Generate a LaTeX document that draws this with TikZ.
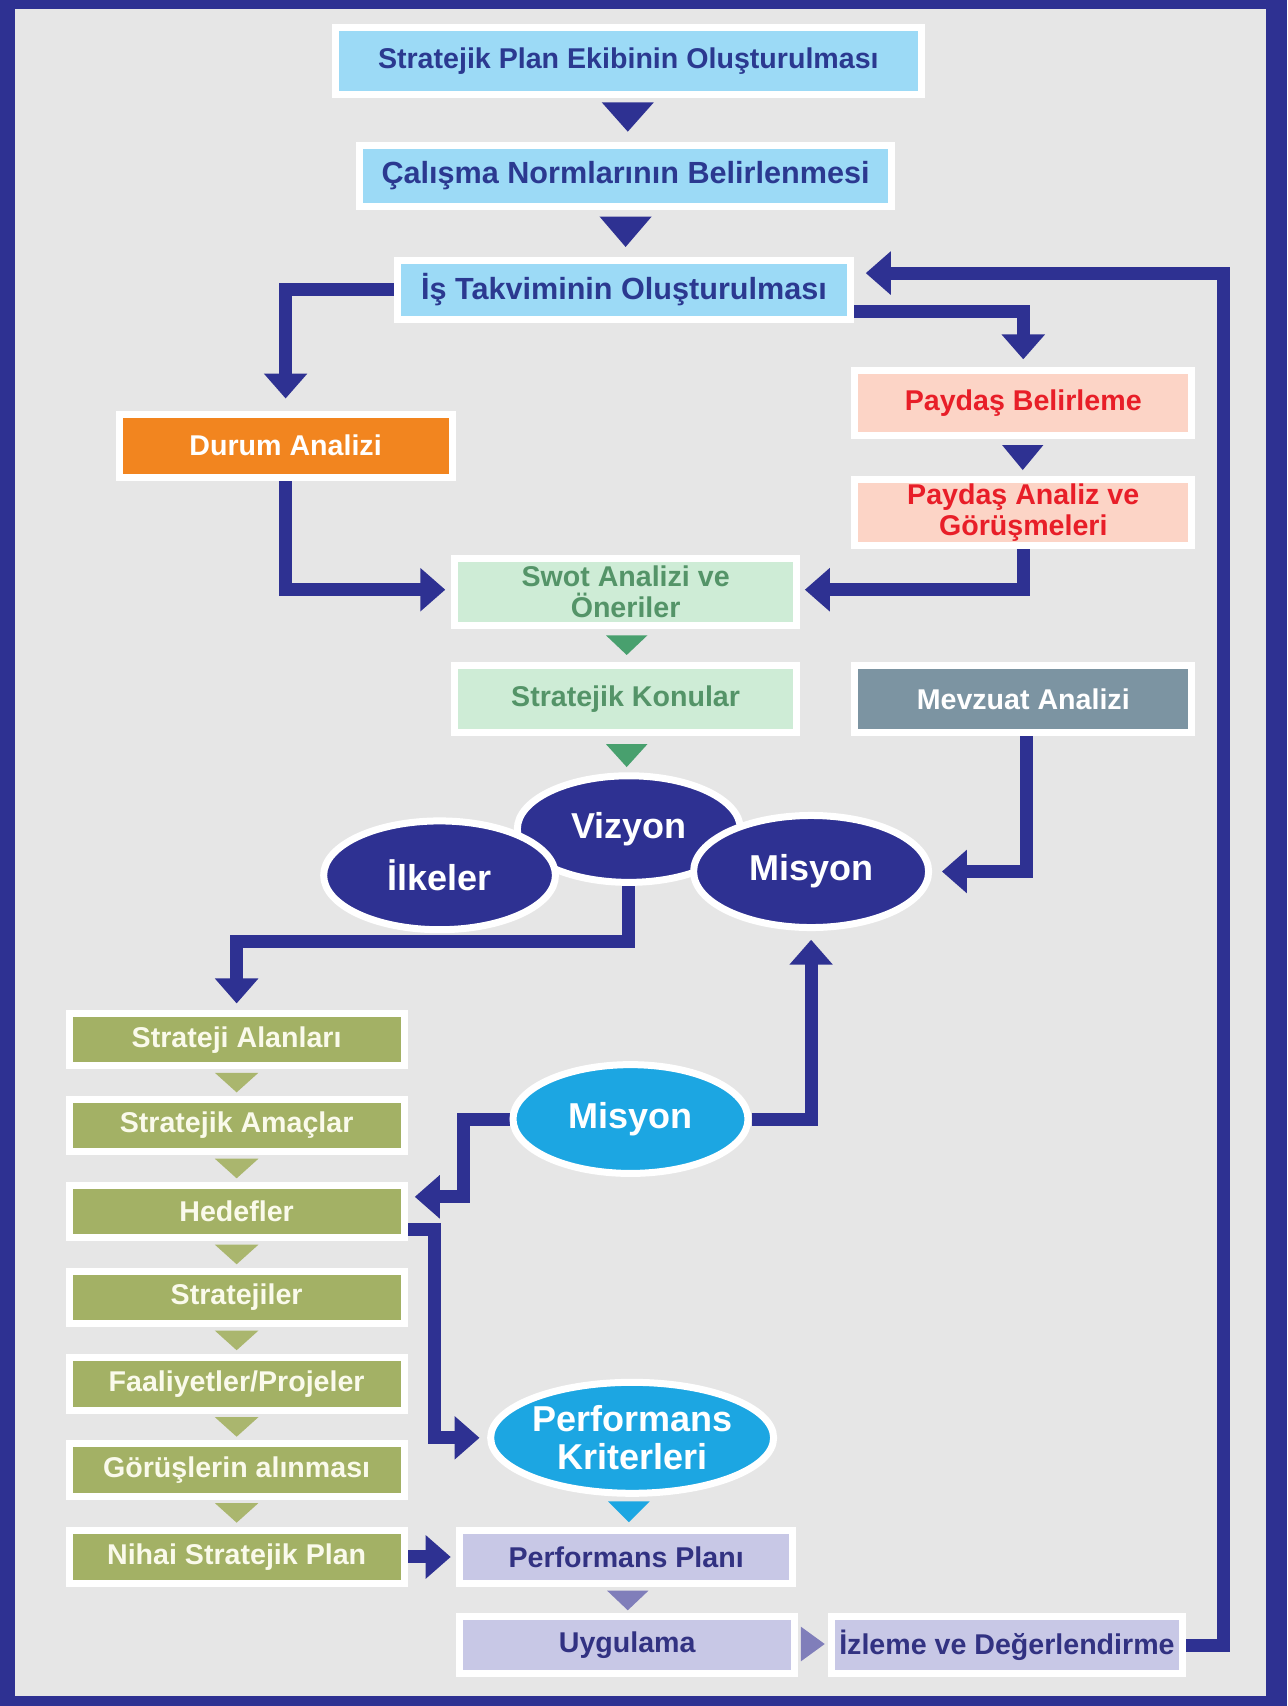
\documentclass[tikz,border=0pt]{standalone}
\usepackage{fontspec}
\setmainfont{Liberation Sans}
\usetikzlibrary{arrows.meta,calc,shapes.geometric}
\definecolor{navy}{RGB}{46,49,146}
\definecolor{bggray}{RGB}{230,230,230}
\definecolor{lblue}{RGB}{156,218,246}
\definecolor{boxnavy}{RGB}{43,57,144}
\definecolor{orng}{RGB}{242,133,31}
\definecolor{peach}{RGB}{252,212,198}
\definecolor{redtxt}{RGB}{232,30,40}
\definecolor{mint}{RGB}{206,236,214}
\definecolor{greentxt}{RGB}{84,148,104}
\definecolor{greentri}{RGB}{72,160,110}
\definecolor{slate}{RGB}{124,148,162}
\definecolor{olive}{RGB}{163,177,101}
\definecolor{olivetri}{RGB}{170,182,110}
\definecolor{cyanell}{RGB}{28,166,226}
\definecolor{lav}{RGB}{200,200,230}
\definecolor{lavtxt}{RGB}{50,50,130}
\definecolor{lavtri}{RGB}{128,126,186}
\definecolor{offwhite}{RGB}{250,250,235}
\pgfdeclarelayer{bg}
\pgfdeclarelayer{connlayer}
\pgfsetlayers{bg,connlayer,main}
\newcommand{\dtri}[5]{\fill[#1] (#2-#5,#3) -- (#2+#5,#3) -- (#2,#4) -- cycle;}
\begin{document}
\begin{tikzpicture}[x=0.544pt,y=-0.544pt,
  sz/.style 2 args={minimum width=#1*0.544pt, minimum height=#2*0.544pt},
  box/.style={draw=white, line width=3.5pt, inner sep=0pt, align=center,
    font=\bfseries\fontsize{14.3}{15.5}\selectfont},
  ell/.style={ellipse, draw=white, line width=3.5pt, inner sep=0pt, text=white,
    align=center, font=\bfseries\fontsize{18}{19}\selectfont},
  conn/.style={draw=navy, line width=6.5pt, -{Triangle[width=21pt,length=12.5pt]}},
  bluebox/.style={box, fill=lblue, text=boxnavy},
  peachbox/.style={box, fill=peach, text=redtxt},
  mintbox/.style={box, fill=mint, text=greentxt},
  olivebox/.style={box, fill=olive, text=offwhite, sz={308}{48}},
  lavbox/.style={box, fill=lav, text=lavtxt},
]
\useasboundingbox (0,0) rectangle (1183,1568);
\begin{pgfonlayer}{bg}
  \fill[navy] (0,0) rectangle (1183,1568);
  \fill[bggray] (14,8) rectangle (1164,1559);
\end{pgfonlayer}

% top column
\node[bluebox, sz={538}{61}] (b1) at (577.5,56) {Stratejik Plan Ekibinin Oluşturulması};
\node[bluebox, sz={489}{56}] (b2) at (575,161.5) {\fontsize{15.3}{16}\selectfont Çalışma Normlarının Belirlenmesi};
\node[bluebox, sz={416}{54}] (b3) at (573.5,266.5) {\fontsize{15.3}{16}\selectfont İş Takviminin Oluşturulması};
\node[box, fill=orng, text=white, sz={306}{58}] (durum) at (262.5,409.5) {Durum Analizi};
\node[peachbox, sz={310}{60}] (pb) at (940.5,370.5) {Paydaş Belirleme};
\node[peachbox, sz={310}{61}] (pa) at (940.5,471) {Paydaş Analiz ve\\Görüşmeleri};
\node[mintbox, sz={315}{61}] (swot) at (575,544) {\fontsize{14.3}{16.3}\selectfont Swot Analizi ve\\Öneriler};
\node[mintbox, sz={315}{62}] (konu) at (575,642.5) {Stratejik Konular};
\node[box, fill=slate, text=white, sz={310}{62}] (mevz) at (940.5,642.5) {Mevzuat Analizi};

% ellipses
\node[ell, fill=navy, sz={205}{98}] (vizyon) at (578,762) {Vizyon};
\node[ell, fill=navy, sz={213}{100}] (ilkeler) at (404,804.5) {İlkeler};
\node[ell, fill=navy, sz={216}{103}] (misyon) at (745.5,801) {Misyon};

% olive column
\node[olivebox] (s1) at (217.5,955.5) {Strateji Alanları};
\node[olivebox] (s2) at (217.5,1034.5) {Stratejik Amaçlar};
\node[olivebox] (s3) at (217.5,1113.5) {Hedefler};
\node[olivebox] (s4) at (217.5,1192.5) {Stratejiler};
\node[olivebox] (s5) at (217.5,1272) {Faaliyetler/Projeler};
\node[olivebox] (s6) at (217.5,1351) {Görüşlerin alınması};
\node[olivebox] (s7) at (217.5,1431) {Nihai Stratejik Plan};

\node[ell, fill=cyanell, sz={216}{100}] (lmis) at (579.5,1028.5) {Misyon};
\node[ell, fill=cyanell, sz={220}{102}] (perf) at (581,1321.5) {Performans\\Kriterleri};

\node[lavbox, sz={306}{49}] (pplan) at (575.5,1431) {Performans Planı};
\node[lavbox, sz={308}{53}] (uyg) at (576.5,1512) {Uygulama};
\node[lavbox, sz={322}{53}] (izle) at (925.5,1512) {İzleme ve Değerlendirme};

% small triangles
\dtri{navy}{577}{94}{121}{24}
\dtri{navy}{575}{199}{227}{24}
\dtri{navy}{940}{409}{432}{19}
\dtri{greentri}{576}{584}{602}{19}
\dtri{greentri}{576}{684}{705}{19}
\foreach \c in {955.5,1034.5,1113.5,1192.5,1272,1351}{
  \dtri{olivetri}{217.5}{\c+30.5}{\c+48.5}{20}
}
\dtri{cyanell}{578}{1380}{1399}{19}
\dtri{lavtri}{577}{1462}{1480}{19}
\fill[lavtri] (736,1495) -- (736,1527) -- (758,1511) -- cycle;

% connectors
\begin{pgfonlayer}{connlayer}
  \draw[conn] (b3.west) -| ($(durum.north)+(0,-11)$);
  \draw[conn] ($(b3.east)+(0,20)$) -| ($(pb.north)+(0,-7)$);
  \draw[conn] (izle.east) -| (1124.5,251) -- ($(b3.east)+(11,-15.5)$);
  \draw[conn] (durum.south) |- ($(swot.west)+(-5,-2)$);
  \draw[conn] (pa.south) |- ($(swot.east)+(4,-2)$);
  \draw[conn] ($(mevz.south)+(3,0)$) |- ($(misyon.east)+(9,0)$);
  \draw[conn] (vizyon.south) |- ($(s1.north)+(0,-63)$) -- ($(s1.north)+(0,-6)$);
  \draw[conn] (lmis.east) -| ($(misyon.south)+(0,8)$);
  \draw[conn] (lmis.west) -| ($(s3.east)+(51.5,-13.5)$) -- ($(s3.east)+(6.5,-13.5)$);
  \draw[conn] ($(s3.east)+(0,16.5)$) -| ($(perf.west)+(-48,0)$) -- ($(perf.west)+(-7,0)$);
  \draw[conn] (s7.east) -- ($(pplan.west)+(-5,0)$);
\end{pgfonlayer}
\end{tikzpicture}
\end{document}
